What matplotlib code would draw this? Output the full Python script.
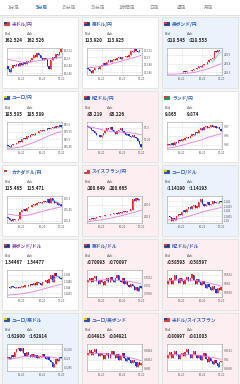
import numpy as np
import matplotlib
matplotlib.use("Agg")
import matplotlib.pyplot as plt
from matplotlib.patches import Rectangle

plt.rcParams["font.family"] = ["Noto Sans CJK JP", "DejaVu Sans"]

# ---- data ----
tabs = ["1分足", "5分足", "15分足", "30分足", "1時間足", "日足", "週足", "月足"]
selected_tab = "5分足"

pairs = ["米ドル/円", "豪ドル/円", "英ポンド/円",
         "ユーロ/円", "NZドル/円", "ランド/円",
         "カナダドル/円", "スイスフラン/円", "ユーロ/ドル",
         "英ポンド/ドル", "豪ドル/ドル", "NZドル/ドル",
         "ユーロ/豪ドル", "ユーロ/英ポンド", "米ドル/スイスフラン"]
bids = ["162.524", "113.920", "218.545", "185.585", "95.219", "9.865",
        "115.465", "200.649", "1.14190", "1.34467", "0.70093", "0.58593",
        "1.62900", "0.84913", "0.80997"]
asks = ["162.526", "113.925", "218.553", "185.589", "95.226", "9.874",
        "115.471", "200.665", "1.14193", "1.34477", "0.70097", "0.58597",
        "1.62914", "0.84921", "0.81003"]
moves = ["", "", "up", "", "down", "", "", "down", "up",
         "", "down", "down", "up", "down", "down"]
flags = ["us", "au", "gb", "eu", "nz", "za", "ca", "ch", "eu",
         "gb", "au", "nz", "eu", "eu", "us"]
time_labels = ["15:20", "16:20", "17:20"]

first_open = [162.480, 113.872, 218.300, 185.460, 95.310, 9.850, 115.415,
              200.465, 1.14050, 1.34400, 0.70110, 0.58600, 1.62900,
              0.84930, 0.81005]

usdjpy = [162.470, 162.462, 162.475, 162.482, 162.478, 162.485, 162.480, 162.488,
          162.482, 162.490, 162.486, 162.492, 162.489, 162.495, 162.502, 162.510,
          162.505, 162.515, 162.508, 162.500, 162.495, 162.502, 162.498, 162.478,
          162.470, 162.495, 162.505, 162.500, 162.512, 162.508, 162.518, 162.524]
audjpy = [113.868, 113.862, 113.858, 113.866, 113.870, 113.872, 113.868, 113.876,
          113.880, 113.884, 113.880, 113.888, 113.892, 113.888, 113.894, 113.896,
          113.892, 113.898, 113.900, 113.897, 113.902, 113.900, 113.904, 113.902,
          113.906, 113.918, 113.914, 113.922, 113.918, 113.916, 113.921, 113.920]
gbpjpy = [218.305, 218.300, 218.310, 218.305, 218.300, 218.308, 218.302, 218.310,
          218.305, 218.312, 218.308, 218.315, 218.320, 218.318, 218.330, 218.340,
          218.335, 218.355, 218.370, 218.365, 218.385, 218.400, 218.395, 218.420,
          218.440, 218.450, 218.470, 218.545, 218.530, 218.555, 218.540, 218.545]
eurjpy = [185.455, 185.448, 185.462, 185.470, 185.466, 185.478, 185.490, 185.485,
          185.500, 185.510, 185.505, 185.520, 185.515, 185.528, 185.535, 185.530,
          185.545, 185.540, 185.552, 185.560, 185.555, 185.565, 185.560, 185.572,
          185.566, 185.575, 185.582, 185.578, 185.590, 185.585, 185.596, 185.585]
nzdjpy = [95.305, 95.298, 95.290, 95.285, 95.278, 95.270, 95.268, 95.262,
          95.270, 95.280, 95.285, 95.300, 95.295, 95.305, 95.290, 95.282,
          95.275, 95.285, 95.292, 95.300, 95.288, 95.280, 95.270, 95.275,
          95.265, 95.260, 95.268, 95.262, 95.255, 95.245, 95.230, 95.219]
zarjpy = [9.851, 9.849, 9.852, 9.850, 9.853, 9.852, 9.855, 9.854,
          9.856, 9.855, 9.857, 9.858, 9.857, 9.860, 9.862, 9.861,
          9.864, 9.863, 9.866, 9.868, 9.866, 9.869, 9.871, 9.868,
          9.870, 9.872, 9.869, 9.871, 9.868, 9.870, 9.867, 9.865]
cadjpy = [115.412, 115.405, 115.400, 115.408, 115.404, 115.402, 115.410, 115.440,
          115.448, 115.452, 115.445, 115.455, 115.460, 115.462, 115.470, 115.475,
          115.472, 115.480, 115.482, 115.478, 115.485, 115.490, 115.482, 115.498,
          115.480, 115.500, 115.490, 115.478, 115.482, 115.470, 115.475, 115.465]
chfjpy = [200.470, 200.478, 200.482, 200.478, 200.486, 200.495, 200.490, 200.500,
          200.505, 200.498, 200.510, 200.515, 200.508, 200.520, 200.518, 200.525,
          200.530, 200.522, 200.535, 200.530, 200.540, 200.545, 200.538, 200.550,
          200.548, 200.560, 200.650, 200.635, 200.660, 200.645, 200.655, 200.649]
eurusd = [1.14055, 1.14040, 1.14005, 1.14030, 1.14010, 1.14050, 1.14075, 1.14060,
          1.14090, 1.14110, 1.14095, 1.14120, 1.14140, 1.14125, 1.14150, 1.14165,
          1.14130, 1.14145, 1.14195, 1.14220, 1.14170, 1.14150, 1.14175, 1.14190,
          1.14160, 1.14175, 1.14200, 1.14180, 1.14195, 1.14185, 1.14200, 1.14190]
gbpusd = [1.34405, 1.34395, 1.34410, 1.34400, 1.34390, 1.34400, 1.34395, 1.34405,
          1.34410, 1.34400, 1.34415, 1.34420, 1.34410, 1.34425, 1.34415, 1.34430,
          1.34420, 1.34440, 1.34430, 1.34415, 1.34445, 1.34440, 1.34455, 1.34430,
          1.34470, 1.34500, 1.34440, 1.34515, 1.34490, 1.34480, 1.34475, 1.34467]
audusd = [0.70115, 0.70120, 0.70110, 0.70118, 0.70125, 0.70112, 0.70105, 0.70115,
          0.70108, 0.70100, 0.70112, 0.70118, 0.70110, 0.70122, 0.70115, 0.70108,
          0.70120, 0.70126, 0.70114, 0.70110, 0.70118, 0.70105, 0.70112, 0.70100,
          0.70095, 0.70104, 0.70098, 0.70088, 0.70095, 0.70085, 0.70098, 0.70093]
nzdusd = [0.58605, 0.58612, 0.58600, 0.58608, 0.58618, 0.58610, 0.58602, 0.58612,
          0.58605, 0.58598, 0.58608, 0.58615, 0.58605, 0.58612, 0.58620, 0.58608,
          0.58600, 0.58610, 0.58604, 0.58596, 0.58605, 0.58598, 0.58590, 0.58600,
          0.58592, 0.58585, 0.58595, 0.58588, 0.58580, 0.58590, 0.58585, 0.58593]
euraud = [1.62905, 1.62895, 1.62920, 1.62910, 1.62935, 1.62950, 1.62960, 1.62940,
          1.62955, 1.62930, 1.62915, 1.62935, 1.62920, 1.62905, 1.62925, 1.62910,
          1.62920, 1.62900, 1.62915, 1.62905, 1.62925, 1.62910, 1.62895, 1.62905,
          1.62890, 1.62880, 1.62855, 1.62870, 1.62895, 1.62885, 1.62905, 1.62900]
eurgbp = [0.84935, 0.84942, 0.84930, 0.84938, 0.84945, 0.84935, 0.84928, 0.84936,
          0.84930, 0.84922, 0.84930, 0.84935, 0.84925, 0.84932, 0.84940, 0.84930,
          0.84925, 0.84932, 0.84920, 0.84928, 0.84935, 0.84925, 0.84918, 0.84926,
          0.84920, 0.84912, 0.84920, 0.84915, 0.84905, 0.84915, 0.84908, 0.84913]
usdchf = [0.81010, 0.81018, 0.81005, 0.81012, 0.81020, 0.81010, 0.81002, 0.81010,
          0.81015, 0.81008, 0.81018, 0.81024, 0.81012, 0.81005, 0.81012, 0.81020,
          0.81010, 0.81003, 0.81010, 0.81000, 0.81008, 0.81015, 0.81002, 0.80995,
          0.81005, 0.80998, 0.80990, 0.81000, 0.80992, 0.80985, 0.80995, 0.80997]
closes = [usdjpy, audjpy, gbpjpy, eurjpy, nzdjpy, zarjpy, cadjpy, chfjpy,
          eurusd, gbpusd, audusd, nzdusd, euraud, eurgbp, usdchf]

# slow moving average (pink), sampled across the chart
ma_pink = [
    [162.497, 162.494, 162.490, 162.489, 162.492, 162.495, 162.498, 162.500, 162.503],
    [113.872, 113.873, 113.876, 113.880, 113.885, 113.890, 113.895, 113.900, 113.906],
    [218.28, 218.28, 218.285, 218.29, 218.30, 218.32, 218.34, 218.37, 218.40],
    [185.440, 185.442, 185.450, 185.465, 185.480, 185.500, 185.520, 185.538, 185.552],
    [95.305, 95.300, 95.293, 95.287, 95.283, 95.282, 95.280, 95.277, 95.270],
    [9.846, 9.847, 9.849, 9.851, 9.853, 9.855, 9.858, 9.860, 9.862],
    [115.430, 115.425, 115.422, 115.425, 115.432, 115.440, 115.448, 115.455, 115.462],
    [200.455, 200.460, 200.468, 200.478, 200.490, 200.505, 200.520, 200.535, 200.555],
    [1.14010, 1.14015, 1.14025, 1.14045, 1.14065, 1.14085, 1.14105, 1.14120, 1.14135],
    [1.34335, 1.34340, 1.34345, 1.34355, 1.34365, 1.34380, 1.34395, 1.34410, 1.34425],
    [0.70112, 0.70113, 0.70114, 0.70115, 0.70114, 0.70113, 0.70111, 0.70108, 0.70104],
    [0.58606, 0.58607, 0.58608, 0.58608, 0.58607, 0.58605, 0.58602, 0.58598, 0.58594],
    [1.62895, 1.62900, 1.62908, 1.62912, 1.62913, 1.62912, 1.62910, 1.62905, 1.62898],
    [0.84933, 0.84934, 0.84934, 0.84933, 0.84931, 0.84929, 0.84926, 0.84922, 0.84918],
    [0.81010, 0.81011, 0.81012, 0.81012, 0.81011, 0.81009, 0.81007, 0.81004, 0.81001],
]
# short moving average (light blue), last few candles only
ma_blue = {
    2: [218.42, 218.44, 218.47, 218.50, 218.52, 218.53],
    6: [115.488, 115.490, 115.486, 115.480, 115.476, 115.472],
    9: [1.34450, 1.34465, 1.34480, 1.34490, 1.34488, 1.34480],
}

y_limits = [(162.455, 162.528), (113.852, 113.926), (218.27, 218.58),
            (185.435, 185.615), (95.21, 95.325), (9.845, 9.875),
            (115.39, 115.51), (200.44, 200.68), (1.1398, 1.1425),
            (1.3432, 1.3454), (0.7007, 0.7014), (0.5857, 0.5863),
            (1.6283, 1.6298), (0.84895, 0.84955), (0.80975, 0.81035)]
y_ticks = [[162.46, 162.48, 162.50, 162.52], [113.86, 113.88, 113.90, 113.92],
           [218.3, 218.4, 218.5], [185.45, 185.5, 185.55, 185.6], [95.25, 95.3],
           [9.85, 9.86, 9.87], [115.4, 115.45, 115.5], [200.5, 200.6],
           [1.1400, 1.1405, 1.1410, 1.1415, 1.1420], [1.3435, 1.344, 1.3445, 1.345],
           [0.7008, 0.7010, 0.7012], [0.5858, 0.5860, 0.5862],
           [1.6285, 1.6290, 1.6295], [0.8490, 0.8492, 0.8494], [0.8098, 0.8100, 0.8102]]

# ---- layout (pixels) ----
W, H = 240, 384
fig = plt.figure(figsize=(W / 100, H / 100), dpi=100)
fig.patch.set_facecolor("#f5f5f5")
bg = fig.add_axes([0, 0, 1, 1])
bg.set_xlim(0, W)
bg.set_ylim(H, 0)
bg.axis("off")

# tab bar
bg.add_patch(Rectangle((0, 0), W, 15, color="white", zorder=0))
bg.plot([0, W], [15, 15], color="#dcdcdc", lw=0.6)
tab_x = [14, 42, 69, 98, 127, 154, 181, 209]
for tx, t in zip(tab_x, tabs):
    sel = t == selected_tab
    bg.text(tx, 7, t, ha="center", va="center", fontsize=3.3,
            color="#2f6fc4" if sel else "#888888",
            fontweight="bold" if sel else "normal")

flag_colors = {
    "us": ("#d83a3a", "#2b3f8f"), "au": ("#1f3a8a", "#d83a3a"),
    "gb": ("#1f3a8a", "#d83a3a"), "eu": ("#1f4fa8", "#f2c500"),
    "nz": ("#1f3a8a", "#d83a3a"), "za": ("#1c8f4a", "#d83a3a"),
    "ca": ("#ffffff", "#d83a3a"), "ch": ("#d83a3a", "#ffffff"),
}
card_bg = {"": "white", "up": "#eaf3fc", "down": "#fdeef1"}
arrow = {"": "", "up": "↑", "down": "↓"}
arrow_col = {"": "#222222", "up": "#2a6fd0", "down": "#e03030"}

col_x = [2, 82, 162]
row_y = [17, 91, 165, 239, 313]
card_w, card_h = 76, 71

for i, name in enumerate(pairs):
    cx = col_x[i % 3]
    cy = row_y[i // 3]
    mv = moves[i]
    bg.add_patch(Rectangle((cx, cy), card_w, card_h, facecolor=card_bg[mv],
                           edgecolor="#dddddd", lw=0.5, zorder=1))
    # flag
    c1, c2 = flag_colors[flags[i]]
    bg.add_patch(Rectangle((cx + 2, cy + 5), 6, 4, facecolor=c1,
                           edgecolor="#bbbbbb", lw=0.2, zorder=2))
    bg.add_patch(Rectangle((cx + 2, cy + 5), 3, 2, facecolor=c2, lw=0, zorder=3))
    title_col = "#7a3aa8" if i in (0, 9) else "#2a5fc0"
    bg.text(cx + 10, cy + 7, name, ha="left", va="center", fontsize=3.4,
            color=title_col, fontweight="bold", zorder=4)
    bg.text(cx + 3, cy + 17, "Bid", fontsize=2.8, color="#555555",
            va="center", zorder=4)
    bg.text(cx + 25, cy + 17, "Ask", fontsize=2.8, color="#555555",
            va="center", zorder=4)
    for vx, val in ((cx + 3, bids[i]), (cx + 25, asks[i])):
        off = 0
        if mv:
            bg.text(vx, cy + 23.5, arrow[mv], fontsize=3.2, color=arrow_col[mv],
                    va="center", zorder=4, family=["DejaVu Sans"])
            off = 2.6
        bg.text(vx + off, cy + 23.5, val, fontsize=3.3, color="#222222",
                fontweight="bold", va="center", zorder=4)

    # chart box
    px0, py0, pw, ph = cx + 5, cy + 31, 55, 27
    ax = fig.add_axes([px0 / W, 1 - (py0 + ph) / H, pw / W, ph / H])
    ax.set_facecolor("white")
    c = np.array(closes[i])
    o = np.concatenate([[first_open[i]], c[:-1]])
    x = np.arange(len(c))
    up = c >= o
    cols = np.where(up, "#ff2a2a", "#2233dd")
    ax.bar(x, c - o, bottom=o, width=0.75, color=cols, linewidth=0, zorder=3)
    ax.vlines(x, np.minimum(o, c), np.maximum(o, c), colors=cols, lw=0.6, zorder=3)
    ma = ma_pink[i]
    ax.plot(np.linspace(0, len(c) - 1, len(ma)), ma, color="#e679e6", lw=0.6, zorder=4)
    if i in ma_blue:
        mb = ma_blue[i]
        ax.plot(np.arange(len(c) - len(mb), len(c)), mb, color="#6fb6f0", lw=0.6, zorder=4)
    ax.set_xlim(-0.5, len(c) - 0.5)
    ax.set_ylim(*y_limits[i])
    ax.set_yticks(y_ticks[i])
    ax.set_yticklabels([f"{t:g}" for t in y_ticks[i]])
    ax.set_xticks([8, 20, 31])
    ax.set_xticklabels(time_labels)
    ax.yaxis.tick_right()
    ax.tick_params(length=0, labelsize=2.1, colors="#555555", pad=1.2)
    ax.grid(color="#bbbbbb", linestyle=":", lw=0.4, zorder=0)
    for s in ax.spines.values():
        s.set_color("#999999")
        s.set_linewidth(0.4)

fig.savefig("out.png", dpi=100, facecolor=fig.get_facecolor())
